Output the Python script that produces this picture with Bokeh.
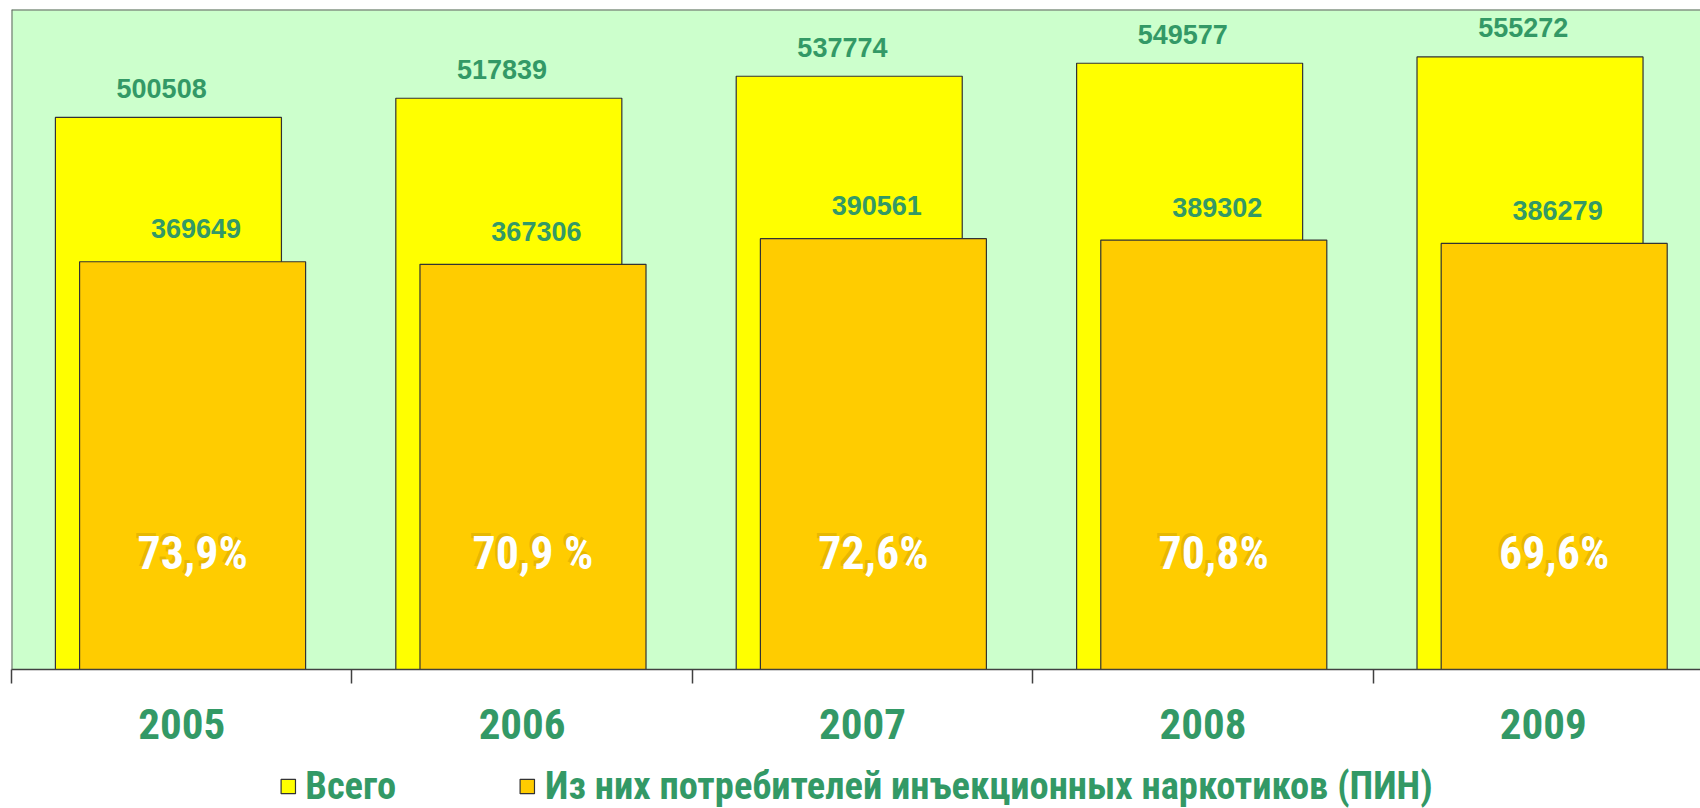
from bokeh.plotting import figure
from bokeh.layouts import column
from bokeh.models import Range1d, FixedTicker, Legend, LegendItem, ColumnDataSource, Span
from bokeh.core.properties import value
from bokeh.embed import file_html
from bokeh.resources import INLINE

# ---- data ----
years = ["2005", "2006", "2007", "2008", "2009"]
total = [500508, 517839, 537774, 549577, 555272]
idu = [369649, 367306, 390561, 389302, 386279]
pct_labels = ["73,9%", "70,9 %", "72,6%", "70,8%", "69,6%"]
legend_labels = ["Всего", "Из них потребителей инъекционных наркотиков (ПИН)"]

# ---- style ----
GREEN = "#339966"
NARROW = "'Roboto Condensed', 'Liberation Sans Narrow', 'DejaVu Sans Condensed', 'Liberation Sans', sans-serif"
REG = "Liberation Sans"
BG = "#CCFFCC"
YELLOW = "#FFFF00"
ORANGE = "#FFCC00"
EDGE = "#333333"

W = 1700
CAT_PX = 340.4
LEFT = 11
idx = list(range(len(years)))
x_total = [i + 0.461 for i in idx]
x_idu = [i + 0.532 for i in idx]

src = ColumnDataSource(dict(
    x_total=x_total, x_idu=x_idu,
    lx_total=[x - 0.02 for x in x_total],
    lx_idu=[x + 0.01 for x in x_idu],
    total=total, idu=idu,
    total_s=[str(v) for v in total], idu_s=[str(v) for v in idu],
    pct=pct_labels,
))

p = figure(width=W, height=754, output_backend="svg", toolbar_location=None,
           x_range=Range1d(0, (W - LEFT) / CAT_PX), y_range=Range1d(0, 598300),
           y_axis_location=None,
           min_border_left=LEFT, min_border_right=0, min_border_top=9, min_border_bottom=85)
p.background_fill_color = BG
p.border_fill_color = "white"
p.outline_line_color = None
p.xgrid.visible = False
p.ygrid.visible = False

p.add_layout(Span(location=598300, dimension="width", line_color="#606060", line_width=2))
p.add_layout(Span(location=0, dimension="height", line_color="#606060", line_width=2))

ax = p.xaxis[0]
ax.ticker = FixedTicker(ticks=[i + 0.5 for i in idx], minor_ticks=list(range(len(years) + 1)))
ax.major_label_overrides = {i + 0.5: y for i, y in zip(idx, years)}
ax.major_tick_out = 0
ax.major_tick_in = 0
ax.minor_tick_out = 14
ax.minor_tick_in = 0
ax.minor_tick_line_color = "#404040"
ax.minor_tick_line_width = 1.5
ax.axis_line_color = "#404040"
ax.axis_line_width = 1.5
ax.major_label_standoff = 25
ax.major_label_text_font = NARROW
ax.major_label_text_font_style = "bold"
ax.major_label_text_font_size = "43px"
ax.major_label_text_color = GREEN

r1 = p.vbar(x="x_total", top="total", bottom=0, width=0.664, source=src,
            fill_color=YELLOW, line_color=EDGE, line_width=1.2)
r2 = p.vbar(x="x_idu", top="idu", bottom=0, width=0.664, source=src,
            fill_color=ORANGE, line_color=EDGE, line_width=1.2)

p.text(x="lx_total", y="total", text="total_s", source=src, y_offset=-29,
       text_align="center", text_baseline="middle", text_color=GREEN,
       text_font=value(REG), text_font_style="bold", text_font_size="27px")
p.text(x="lx_idu", y="idu", text="idu_s", source=src, y_offset=-33,
       text_align="center", text_baseline="middle", text_color=GREEN,
       text_font=value(REG), text_font_style="bold", text_font_size="27px")

pct_y = 106000
p.text(x="x_idu", y=pct_y, text="pct", source=src, x_offset=-3, y_offset=-3,
       text_align="center", text_baseline="middle", text_color="#a07c00", text_alpha=0.25,
       text_font=value(NARROW), text_font_style="bold", text_font_size="46px")
p.text(x="x_idu", y=pct_y, text="pct", source=src,
       text_align="center", text_baseline="middle", text_color="white",
       text_font=value(NARROW), text_font_style="bold", text_font_size="46px")

# ---- legend strip ----
lg = figure(width=W, height=54, output_backend="svg", toolbar_location=None,
            x_range=Range1d(0, 1), y_range=Range1d(0, 1),
            x_axis_location=None, y_axis_location=None,
            min_border_left=LEFT, min_border_right=0, min_border_top=0, min_border_bottom=0)
lg.outline_line_color = None
lg.background_fill_color = "white"
lg.xgrid.visible = False
lg.ygrid.visible = False
k1 = lg.vbar(x=[-5], top=[-5], width=0.1, fill_color=YELLOW, line_color=EDGE, line_width=1.2)
k2 = lg.vbar(x=[-5], top=[-5], width=0.1, fill_color=ORANGE, line_color=EDGE, line_width=1.2)
legend = Legend(items=[LegendItem(label=legend_labels[0], renderers=[k1]),
                       LegendItem(label=legend_labels[1], renderers=[k2])],
                orientation="horizontal", location="bottom",
                padding=0, margin=0, spacing=122,
                glyph_width=18, glyph_height=18, label_standoff=9,
                label_text_font=NARROW, label_text_font_style="bold",
                label_text_font_size="38.5px", label_text_color=GREEN,
                background_fill_alpha=0, border_line_color=None)
lg.add_layout(legend)

layout = column(p, lg, spacing=0)
open("out.html", "w").write(file_html(layout, INLINE))
